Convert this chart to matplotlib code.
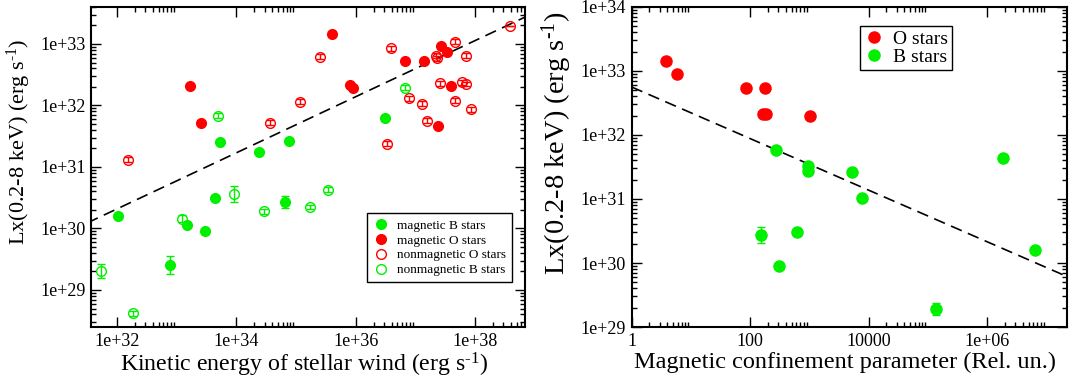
import numpy as np
import matplotlib
matplotlib.use('Agg')
import matplotlib.pyplot as plt
from matplotlib.ticker import LogLocator, FuncFormatter, NullFormatter

plt.rcParams['font.family'] = ['Liberation Serif', 'DejaVu Serif']
plt.rcParams['mathtext.fontset'] = 'custom'
plt.rcParams['mathtext.rm'] = 'Liberation Serif'
plt.rcParams['mathtext.it'] = 'Liberation Serif:italic'

RED = '#ff0000'
GREEN = '#00f000'

# ---- left panel: log10 values ----
# magnetic B stars (filled green)
magB_lkin = [33.72, 34.38, 34.88, 36.49, 32.02, 32.89, 33.18, 33.47, 33.65, 34.82]
magB_lx = [31.41, 31.24, 31.42, 31.80, 30.20, 29.41, 30.05, 29.96, 30.49, 30.43]
magB_err = [0.03, 0.03, 0.03, 0.03, 0.05, 0.15, 0.03, 0.03, 0.03, 0.10]
# magnetic O stars (filled red)
magO_lkin = [33.23, 33.40, 35.61, 35.91, 35.95, 36.83, 37.15, 37.38, 37.43, 37.53, 37.59]
magO_lx = [32.32, 31.72, 33.16, 32.33, 32.28, 32.72, 32.73, 31.67, 32.97, 32.87, 32.31]
magO_err = [0.03] * 11
# nonmagnetic O stars (open red)
nmO_lkin = [34.56, 32.19, 35.41, 35.06, 36.53, 36.89, 36.59, 37.11, 37.20, 37.35,
            37.37, 37.67, 37.85, 37.41, 37.78, 37.85, 37.67, 37.93, 38.58]
nmO_lx = [31.72, 31.12, 32.79, 32.06, 31.38, 32.12, 32.93, 32.03, 31.75, 32.81,
          32.77, 33.04, 32.81, 32.36, 32.38, 32.35, 32.08, 31.94, 33.29]
nmO_err = [0.04] * 18 + [0.0]
# nonmagnetic B stars (open green)
nmB_lkin = [33.69, 36.82, 31.73, 32.27, 33.09, 33.96, 34.46, 35.24, 35.54]
nmB_lx = [31.83, 32.29, 29.31, 28.62, 30.16, 30.56, 30.28, 30.35, 30.63]
nmB_err = [0.04, 0.04, 0.11, 0.04, 0.06, 0.13, 0.04, 0.04, 0.04]
# dashed fit: log Lx = a + b * (log Lkin - x0)
fit1_a, fit1_b, fit1_x0 = 30.12, 0.456, 31.565

# ---- right panel ----
O_eta = [0.58, 0.77, 1.93, 2.25, 2.22, 2.26, 3.01]
O_lx = [33.16, 32.96, 32.73, 32.74, 32.33, 32.33, 32.29]
O_err = [0.02] * 7
B_eta = [2.43, 2.97, 2.98, 3.72, 2.18, 2.48, 2.79, 3.89, 6.26, 6.80, 5.14]
B_lx = [31.77, 31.52, 31.43, 31.42, 30.44, 29.96, 30.49, 31.02, 31.64, 30.20, 29.28]
B_err = [0.02, 0.02, 0.02, 0.02, 0.13, 0.02, 0.02, 0.02, 0.02, 0.05, 0.10]
fit2_a, fit2_b = 32.75, -0.403

YLAB = 'Lx(0.2-8 keV) (erg s$^{\\text{-1}}$)'


def draw(ax, lx, ly, lerr, color, filled, ms):
    x = 10 ** np.array(lx)
    y = 10 ** np.array(ly)
    e = np.array(lerr)
    yerr = [y - y / 10 ** e, y * 10 ** e - y]
    eb = ax.errorbar(x, y, yerr=yerr, fmt='o', color=color, ms=ms,
                     mfc=color if filled else 'none', mec=color, mew=1.0,
                     elinewidth=1.0, capsize=3.0, capthick=1.0, zorder=3)
    return eb[0]


def style(ax, xbase):
    ax.set_xscale('log')
    ax.set_yscale('log')
    ax.xaxis.set_major_locator(LogLocator(base=xbase))
    ax.xaxis.set_minor_locator(LogLocator(base=xbase, subs=np.arange(2, 10)))
    ax.yaxis.set_major_locator(LogLocator(base=10))
    ax.yaxis.set_minor_locator(LogLocator(base=10, subs=np.arange(2, 10)))
    ax.xaxis.set_minor_formatter(NullFormatter())
    ax.yaxis.set_minor_formatter(NullFormatter())
    ax.tick_params(which='both', direction='in', top=True, right=True, width=1.0)
    ax.tick_params(which='major', length=7, labelsize=13, pad=4)
    ax.tick_params(which='minor', length=3.5)
    for s in ax.spines.values():
        s.set_linewidth(1.5)


def efmt(v, pos):
    return '1e+%02d' % int(round(np.log10(v)))


def etafmt(v, pos):
    if v < 1e5:
        return '%d' % int(round(v))
    return '1e+%02d' % int(round(np.log10(v)))


fig = plt.figure(figsize=(10.89, 3.87), dpi=100)
ax1 = fig.add_axes([0.0836, 0.155, 0.3985, 0.827])
ax2 = fig.add_axes([0.580, 0.155, 0.3995, 0.827])

# left panel
h1 = draw(ax1, magB_lkin, magB_lx, magB_err, GREEN, True, 7)
h2 = draw(ax1, magO_lkin, magO_lx, magO_err, RED, True, 7)
h3 = draw(ax1, nmO_lkin, nmO_lx, nmO_err, RED, False, 7)
h4 = draw(ax1, nmB_lkin, nmB_lx, nmB_err, GREEN, False, 7)
ax1.set_xlim(3.67e31, 6.9e38)
ax1.set_ylim(2.5e28, 4e33)
lk = np.linspace(31.5, 38.9, 50)
ax1.plot(10 ** lk, 10 ** (fit1_a + fit1_b * (lk - fit1_x0)), 'k--', lw=1.2, dashes=(7, 4), zorder=2)
style(ax1, 100)
ax1.xaxis.set_major_formatter(FuncFormatter(efmt))
ax1.yaxis.set_major_formatter(FuncFormatter(efmt))
ax1.set_xlabel('Kinetic energy of stellar wind (erg s$^{\\text{-1}}$)', fontsize=17.2)
ax1.xaxis.set_label_coords(0.49, -0.073)
ax1.set_ylabel(YLAB, fontsize=16)
ax1.yaxis.set_label_coords(-0.134, 0.578)
leg1 = ax1.legend([h1, h2, h3, h4],
                  ['magnetic B stars', 'magnetic O stars', 'nonmagnetic O stars', 'nonmagnetic B stars'],
                  loc='lower right', bbox_to_anchor=(0.97, 0.14), fontsize=9.5, fancybox=False,
                  edgecolor='black', framealpha=1, handletextpad=0.6, labelspacing=0.2,
                  borderpad=0.45, handlelength=1.2, borderaxespad=0)
leg1.get_frame().set_linewidth(1.0)

# right panel
g1 = draw(ax2, O_eta, O_lx, O_err, RED, True, 8)
g2 = draw(ax2, B_eta, B_lx, B_err, GREEN, True, 8)
ax2.set_xlim(1, 2.2e7)
ax2.set_ylim(1e29, 1e34)
le = np.linspace(0, 7.4, 50)
ax2.plot(10 ** le, 10 ** (fit2_a + fit2_b * le), 'k--', lw=1.2, dashes=(7, 4), zorder=2)
style(ax2, 100)
ax2.xaxis.set_major_formatter(FuncFormatter(etafmt))
ax2.yaxis.set_major_formatter(FuncFormatter(efmt))
ax2.set_xlabel('Magnetic confinement parameter (Rel. un.)', fontsize=17.5)
ax2.xaxis.set_label_coords(0.49, -0.078)
ax2.set_ylabel(YLAB, fontsize=20.5)
ax2.yaxis.set_label_coords(-0.133, 0.575)
leg2 = ax2.legend([g1, g2], ['O stars', 'B stars'], loc='upper left',
                  bbox_to_anchor=(0.525, 0.94), fontsize=14, fancybox=False,
                  edgecolor='black', framealpha=1, handletextpad=0.5, labelspacing=0.05,
                  borderpad=0.2, handlelength=1.0, borderaxespad=0)
leg2.get_frame().set_linewidth(1.0)

plt.savefig('out.png', dpi=100)
plt.close()
